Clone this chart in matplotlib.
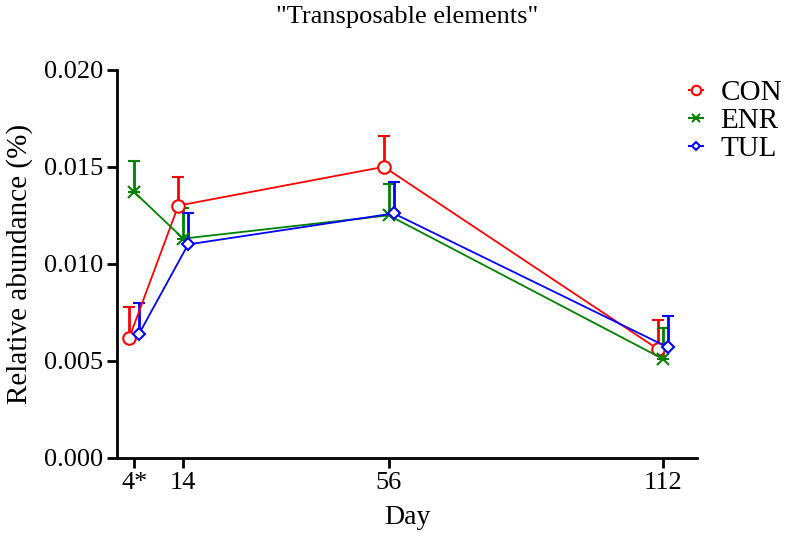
import numpy as np
import matplotlib
matplotlib.use('Agg')
import matplotlib.pyplot as plt
from matplotlib.lines import Line2D

plt.rcParams['font.family'] = ['Liberation Serif', 'DejaVu Serif']

# data
days = [4, 14, 56, 112]
day_labels = ['4*', '14', '56', '112']
con = [0.0062, 0.0130, 0.0150, 0.0056]
con_err = [0.0016, 0.0015, 0.0016, 0.0015]
enr = [0.0137, 0.0113, 0.0125, 0.0051]
enr_err = [0.0016, 0.0016, 0.0016, 0.0016]
tul = [0.0064, 0.0110, 0.0126, 0.0057]
tul_err = [0.0016, 0.0016, 0.0016, 0.0016]

fig = plt.figure(figsize=(7.86, 5.33), dpi=100)
ax = fig.add_axes([0.149, 0.141, 0.738, 0.728])

series = [
    ('CON', con, con_err, -1.0, 'red', 'o', 9, 1.5),
    ('ENR', enr, enr_err, 0.0, 'green', 'x', 8, 1.5),
    ('TUL', tul, tul_err, 1.0, 'blue', 'D', 6, 1.5),
]
handles = []
for name, vals, err, off, col, mk, ms, mew in series:
    x = np.array(days) + off
    ax.errorbar(x, vals, yerr=[np.zeros(len(err)), err], color=col,
                marker=mk, markersize=ms, markerfacecolor='white' if mk != 'x' else col,
                markeredgewidth=mew, linewidth=1.3, elinewidth=2, capsize=4,
                capthick=2)
    handles.append(Line2D([], [], color=col, marker=mk, markersize=ms * 0.75,
                          markerfacecolor='white' if mk != 'x' else col,
                          markeredgewidth=mew, linewidth=1.5, label=name))

ax.set_xlim(0.5, 119)
ax.set_ylim(0, 0.020)
ax.set_yticks([0, 0.005, 0.010, 0.015, 0.020])
ax.set_yticklabels(['0.000', '0.005', '0.010', '0.015', '0.020'])
ax.set_xticks(days)
ax.set_xticklabels(day_labels)
ax.spines['top'].set_visible(False)
ax.spines['right'].set_visible(False)
ax.spines['left'].set_linewidth(2)
ax.spines['bottom'].set_linewidth(2)
ax.tick_params(width=2, length=7, labelsize=19, direction='out', pad=3)
ax.set_xlabel('Day', fontsize=20, labelpad=8)
ax.set_ylabel('Relative abundance (%)', fontsize=21, labelpad=8)
ax.set_title('"Transposable elements"', fontsize=19, pad=34)

fig.legend(handles=handles, loc='upper left', bbox_to_anchor=(0.876, 0.85),
           frameon=False, fontsize=21, handlelength=0.5, handletextpad=0.6,
           labelspacing=0.05, borderaxespad=0, borderpad=0)

fig.savefig('out.png', dpi=100)
